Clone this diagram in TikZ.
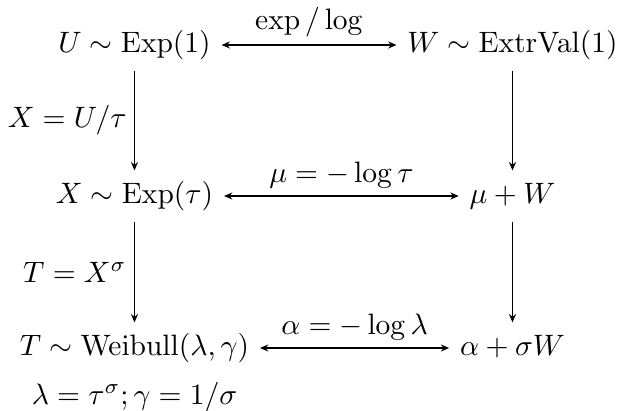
\documentclass[tikz,border=0pt]{standalone}
\usetikzlibrary{arrows.meta}
\begin{document}
\begin{tikzpicture}[x=0.339pt,y=-0.339pt,
  cell/.style={inner sep=3.5pt, text height=7.5pt, text depth=2.5pt},
  lab/.style={inner sep=2.5pt},
  tipx/.tip={Stealth[length=2.8pt,width=2.4pt]},
  harrow/.style={tipx-tipx},
  varrow/.style={-tipx}]
\useasboundingbox (0,0) rectangle (617,410);
\node[cell] (U)  at (134.5,45)  {$U \sim \mathrm{Exp}(1)$};
\node[cell] (W)  at (512.5,45)  {$W \sim \mathrm{ExtrVal}(1)$};
\node[cell] (X)  at (134.5,196) {$X \sim \mathrm{Exp}(\tau)$};
\node[cell] (MW) at (512.5,196) {$\mu + W$};
\node[cell] (T)  at (134.5,348) {$T \sim \mathrm{Weibull}(\lambda,\gamma)$};
\node[cell] (AW) at (512.5,348) {$\alpha + \sigma W$};
\node[inner sep=0pt, anchor=base] (L) at (134.5,404) {$\lambda = \tau^\sigma; \gamma = 1/\sigma$};
\draw[harrow] (U) -- (W) node[midway, above, lab] {$\exp / \log$};
\draw[harrow] (X) -- (MW) node[midway, above, lab] {$\mu = -\log\tau$};
\draw[harrow] (T) -- (AW) node[midway, above, lab] {$\alpha = -\log\lambda$};
\draw[varrow] (U) -- (X) node[midway, left, lab] {$X = U/\tau$};
\draw[varrow] (X) -- (T) node[midway, left, lab] {$T = X^\sigma$};
\draw[varrow] (W) -- (MW);
\draw[varrow] (MW) -- (AW);
\end{tikzpicture}
\end{document}
